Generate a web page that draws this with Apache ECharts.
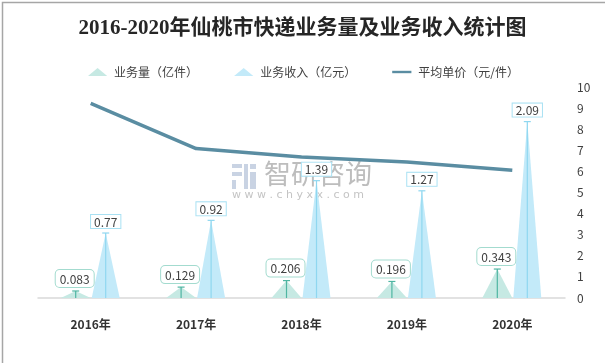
<!DOCTYPE html>
<html><head><meta charset="utf-8">
<script src="https://cdn.jsdelivr.net/npm/echarts@6/dist/echarts.min.js"></script>
<style>html,body{margin:0;padding:0;background:#fff}#c{width:605px;height:363px}</style>
</head><body><div id="c"></div>
<script>
const categories = ['2016年','2017年','2018年','2019年','2020年'];
const volume = [0.083, 0.129, 0.206, 0.196, 0.343];
const revenue = [0.77, 0.92, 1.39, 1.27, 2.09];
const unitPrice = [9.22, 7.08, 6.68, 6.44, 6.05];
const rightTicks = [0,1,2,3,4,5,6,7,8,9,10];

const volColor = '#c6e9e3', volStem = '#4fb5a2', volBorder = '#a3dbcf';
const revColor = '#c3eaf9', revStem = '#8fd7f0', revBorder = '#a9e1f3';
const lineColor = '#5a8da2';
const font = '"Noto Sans CJK SC", "Noto Sans", sans-serif';
const tri = 'path://M0,100 L50,0 L100,100 Z';

function stem(offset, color) {
  return function (params, api) {
    const top = api.coord([api.value(0), api.value(1)]);
    const base = api.coord([api.value(0), 0]);
    const x = top[0] + offset;
    return {type: 'group', children: [
      {type: 'line', shape: {x1: x, y1: top[1], x2: x, y2: base[1]}, style: {stroke: color, lineWidth: 1.2}},
      {type: 'line', shape: {x1: x - 3.5, y1: top[1], x2: x + 3.5, y2: top[1]}, style: {stroke: color, lineWidth: 1.2}}
    ]};
  };
}

const chart = echarts.init(document.getElementById('c'), null, {renderer: 'canvas'});
chart.setOption({
  animation: false,
  textStyle: {fontFamily: font},
  title: {
    text: '2016-2020年仙桃市快递业务量及业务收入统计图',
    left: 'center', top: 13,
    textStyle: {fontFamily: '"Liberation Serif", "Noto Sans CJK SC", serif', fontSize: 21, fontWeight: 'bold', color: '#262626'}
  },
  legend: {
    left: 83, top: 61, itemWidth: 23, itemHeight: 8, itemGap: 36,
    textStyle: {fontSize: 12, color: '#404040', fontFamily: font},
    data: [
      {name: '业务量（亿件）', icon: 'path://M0,10 L12,0 L24,10 Z'},
      {name: '业务收入（亿元）', icon: 'path://M0,10 L12,0 L24,10 Z'},
      {name: '平均单价（元/件）', icon: 'path://M0,0 M0,3.5 L24,3.5 L24,6.5 L0,6.5 Z M24,10', itemStyle: {color: lineColor}}
    ]
  },
  graphic: [
    {type: 'rect', left: 0, top: 0, z: 100, shape: {width: 604, height: 362}, style: {fill: 'none', stroke: '#a6a6a6', lineWidth: 1.5}},
    {type: 'group', left: 232, top: 164, z: 0, children: [
      {type: 'rect', shape: {x: 0, y: 0, width: 10, height: 4}, style: {fill: '#c9d3e3'}},
      {type: 'rect', shape: {x: 0, y: 8, width: 10, height: 4}, style: {fill: '#c9d3e3'}},
      {type: 'rect', shape: {x: 0, y: 16, width: 4, height: 9}, style: {fill: '#c9d3e3'}},
      {type: 'rect', shape: {x: 12, y: 0, width: 4, height: 25}, style: {fill: '#c9d3e3'}},
      {type: 'rect', shape: {x: 18, y: 0, width: 6, height: 5}, style: {fill: '#c9d3e3'}},
      {type: 'rect', shape: {x: 18, y: 8, width: 6, height: 17}, style: {fill: '#c9d3e3'}}
    ]},
    {type: 'text', left: 264, top: 160, z: 0, style: {text: '智研咨询', fill: '#bdbdbd', font: '27px "Noto Sans CJK SC"'}},
    {type: 'text', left: 232, top: 190, z: 0, style: {text: 'w w w . c h y x x . c o m', fill: '#c4c4c4', font: '11px "DejaVu Sans"'}}
  ],
  grid: {left: 38, right: 40, top: 87, bottom: 65},
  xAxis: {
    type: 'category', data: categories,
    axisLine: {lineStyle: {color: '#d9d9d9', width: 1.5}},
    axisTick: {show: false},
    axisLabel: {margin: 20, fontSize: 12, fontWeight: 'bold', color: '#333'}
  },
  yAxis: [
    {type: 'value', min: 0, max: 2.5, show: false, splitLine: {show: false}},
    {type: 'value', position: 'right', min: rightTicks[0], max: rightTicks[rightTicks.length - 1], interval: 1,
     axisLine: {show: false}, axisTick: {show: false}, splitLine: {show: false},
     axisLabel: {margin: 12, fontSize: 12, color: '#404040'}}
  ],
  series: [
    {name: '业务量（亿件）', type: 'pictorialBar', yAxisIndex: 0, symbol: tri, symbolSize: [30, '100%'],
     barWidth: 30, barGap: '0%', itemStyle: {color: volColor}, z: 3, data: volume,
     label: {show: true, position: 'top', distance: 4, backgroundColor: '#fff', borderColor: volBorder, borderWidth: 1,
             borderRadius: 4, padding: [3, 4, 2, 4], fontSize: 12, color: '#404040', offset: [-1, 0]}},
    {name: '业务收入（亿元）', type: 'pictorialBar', yAxisIndex: 0, symbol: tri, symbolSize: [28, '100%'],
     barWidth: 30, barGap: '0%', itemStyle: {color: revColor}, z: 3, data: revenue,
     label: {show: true, position: 'top', distance: 5, backgroundColor: '#fff', borderColor: revBorder, borderWidth: 1,
             padding: [1, 3, 0, 3], fontSize: 12, color: '#404040'}},
    {name: 'volStem', type: 'custom', yAxisIndex: 0, z: 4, silent: true,
     renderItem: stem(-15, volStem), data: volume.map((v, i) => [i, v])},
    {name: 'revStem', type: 'custom', yAxisIndex: 0, z: 4, silent: true,
     renderItem: stem(15, revStem), data: revenue.map((v, i) => [i, v])},
    {name: '平均单价（元/件）', type: 'line', yAxisIndex: 1, data: unitPrice, symbol: 'none', z: 2,
     lineStyle: {color: lineColor, width: 3.5}, itemStyle: {color: lineColor}}
  ]
});
</script></body></html>
